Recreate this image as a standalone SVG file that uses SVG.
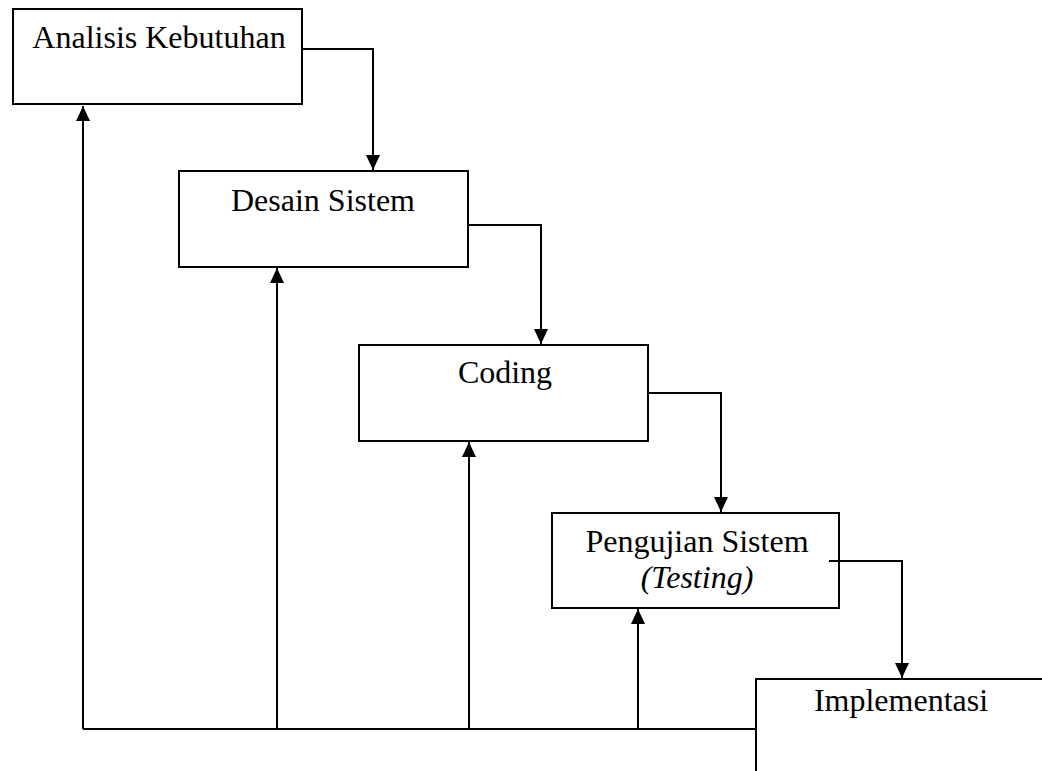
<svg xmlns="http://www.w3.org/2000/svg" width="1042" height="771" viewBox="0 0 1042 771">
<style>
.box{fill:#fff;stroke:#000;stroke-width:2}
.t{font-family:"Liberation Serif","Times New Roman",serif;font-size:32px;fill:#000;text-anchor:middle}
.c{fill:none;stroke:#000;stroke-width:2}
</style>
<defs>
<marker id="ah" markerWidth="15" markerHeight="14" refX="15" refY="7" orient="auto" markerUnits="userSpaceOnUse">
<path d="M0,0 L15,7 L0,14 Z" fill="#000"/>
</marker>
</defs>
<rect width="1042" height="771" fill="#fff"/>
<g id="n1"><rect class="box" x="13" y="9" width="289" height="95"/><text class="t" x="159" y="48">Analisis Kebutuhan</text></g>
<g id="n2"><rect class="box" x="179" y="171" width="289" height="96"/><text class="t" x="323" y="211">Desain Sistem</text></g>
<g id="n3"><rect class="box" x="359" y="345" width="289" height="96"/><text class="t" x="505" y="383">Coding</text></g>
<g id="n4"><rect class="box" x="552" y="513" width="287" height="95"/><text class="t" x="697" y="552">Pengujian Sistem</text><text class="t" x="697" y="588" font-style="italic">(Testing)</text></g>
<g id="n5"><path class="c" d="M756,771 L756,679 L1042,679"/><text class="t" x="901" y="711">Implementasi</text></g>
<g id="connectors">
<path class="c" d="M302,49 L373,49 L373,170" marker-end="url(#ah)"/>
<path class="c" d="M468,225 L541,225 L541,344" marker-end="url(#ah)"/>
<path class="c" d="M648,393 L721,393 L721,512" marker-end="url(#ah)"/>
<path class="c" d="M829,561 L902,561 L902,678" marker-end="url(#ah)"/>
<path class="c" d="M83,729 L756,729"/>
<path class="c" d="M83,729 L83,106" marker-end="url(#ah)"/>
<path class="c" d="M277,729 L277,268" marker-end="url(#ah)"/>
<path class="c" d="M469,729 L469,442" marker-end="url(#ah)"/>
<path class="c" d="M638,729 L638,609" marker-end="url(#ah)"/>
</g>
</svg>
